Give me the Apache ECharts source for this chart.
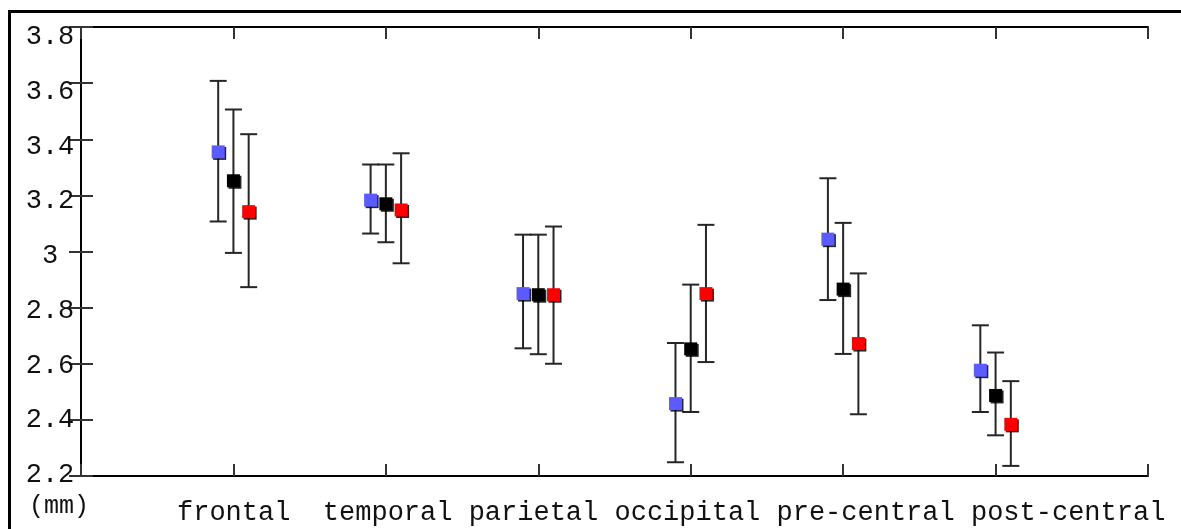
<!DOCTYPE html>
<html>
<head>
<meta charset="utf-8">
<script src="https://cdn.jsdelivr.net/npm/echarts@6/dist/echarts.min.js"></script>
<style>
html,body{margin:0;padding:0;background:#fff;}
#chart{width:1181px;height:529px;}
</style>
</head>
<body>
<div id="chart"></div>
<script>
// ---- data ----
const categories = ['frontal', 'temporal', 'parietal', 'occipital', 'pre-central', 'post-central'];
const yUnit = '(mm)';
const yMin = 2.2, yMax = 3.8, yStep = 0.2;
const yTickLabels = [2.2, 2.4, 2.6, 2.8, 3.0, 3.2, 3.4, 3.6, 3.8];

const blueMean  = [3.355, 3.183, 2.850, 2.458, 3.044, 2.577];
const blueLow   = [3.107, 3.064, 2.655, 2.249, 2.827, 2.428];
const blueHigh  = [3.608, 3.310, 3.060, 2.674, 3.261, 2.737];

const blackMean = [3.252, 3.170, 2.846, 2.653, 2.866, 2.487];
const blackLow  = [2.995, 3.033, 2.634, 2.428, 2.635, 2.345];
const blackHigh = [3.506, 3.310, 3.060, 2.882, 3.102, 2.640];

const redMean   = [3.142, 3.148, 2.846, 2.850, 2.672, 2.384];
const redLow    = [2.873, 2.958, 2.600, 2.606, 2.420, 2.236];
const redHigh   = [3.418, 3.350, 3.089, 3.095, 2.922, 2.538];

// ---- chart ----
const groupOffsets = [-0.1, 0, 0.1];
const groups = [
  {name: 'blue', color: '#5b5bff', mean: blueMean, low: blueLow, high: blueHigh},
  {name: 'black', color: '#000000', mean: blackMean, low: blackLow, high: blackHigh},
  {name: 'red', color: '#ff0000', mean: redMean, low: redLow, high: redHigh}
];
const FONT = '"Liberation Mono", "Courier New", monospace';
const FS = 27;
const barColor = '#262626';

function renderErr(params, api) {
  const x = api.value(0), lo = api.value(1), hi = api.value(2);
  const a = api.coord([x, lo]), b = api.coord([x, hi]);
  const w = 8.5;
  const st = {stroke: barColor, lineWidth: 2};
  return {type: 'group', children: [
    {type: 'line', shape: {x1: a[0], y1: a[1], x2: b[0], y2: b[1]}, style: st},
    {type: 'line', shape: {x1: a[0] - w, y1: a[1], x2: a[0] + w, y2: a[1]}, style: st},
    {type: 'line', shape: {x1: b[0] - w, y1: b[1], x2: b[0] + w, y2: b[1]}, style: st}
  ]};
}

const series = [];
groups.forEach((g, gi) => {
  series.push({
    type: 'custom', name: g.name + '-err', renderItem: renderErr,
    data: categories.map((c, i) => [i + 1 + groupOffsets[gi], g.low[i], g.high[i]]),
    encode: {x: 0, y: [1, 2]}, z: 2, silent: true
  });
});
groups.forEach((g, gi) => {
  series.push({
    type: 'scatter', name: g.name, symbol: 'rect', symbolSize: 13,
    data: categories.map((c, i) => [i + 1 + groupOffsets[gi], g.mean[i]]),
    itemStyle: {color: g.color, opacity: 1, shadowColor: 'rgba(0,0,0,0.85)', shadowOffsetX: 1.5, shadowOffsetY: 1.5, shadowBlur: 0},
    z: 5, silent: true
  });
});

// x label line: a single monospaced string, as in the reference
const xLabelText = categories[0] + '  ' + categories.slice(1).join(' ');

const axisLineStyle = {show: true, lineStyle: {color: '#000', width: 2}};
const tickStyle = {show: true, inside: true, length: 12, lineStyle: {color: '#333', width: 2}};

const option = {
  animation: false,
  backgroundColor: '#fff',
  grid: {left: 81, right: 33, top: 27, bottom: 53, containLabel: false},
  xAxis: [
    {type: 'value', min: 0, max: categories.length + 1, interval: 1, position: 'bottom',
     axisLine: axisLineStyle, axisTick: tickStyle, axisLabel: {show: false}, splitLine: {show: false}},
    {type: 'value', min: 0, max: categories.length + 1, interval: 1, position: 'top',
     axisLine: axisLineStyle, axisTick: tickStyle, axisLabel: {show: false}, splitLine: {show: false}}
  ],
  yAxis: [
    {type: 'value', min: yMin, max: yMax, interval: yStep, position: 'left',
     axisLine: axisLineStyle, axisTick: tickStyle, splitLine: {show: false}, axisLabel: {show: false}},
    {type: 'value', min: yMin, max: yMax, interval: yStep, position: 'right',
     axisLine: axisLineStyle, axisTick: tickStyle, splitLine: {show: false}, axisLabel: {show: false}},
    // label-only axis: the reference's tick labels sit on a slightly compressed scale
    {type: 'value', min: 2.1963, max: 3.8358, position: 'left', offset: 0,
     axisLine: {show: false}, axisTick: {show: false}, splitLine: {show: false},
     axisLabel: {customValues: yTickLabels, formatter: v => String(+(+v).toFixed(1)), align: 'center', margin: 31,
                 fontFamily: FONT, fontSize: FS, color: '#111', verticalAlign: 'middle', showMinLabel: true, showMaxLabel: true}}
  ],
  graphic: [
    {type: 'rect', shape: {x: 9.5, y: 11.5, width: 1300, height: 700}, style: {fill: 'none', stroke: '#000', lineWidth: 3}, z: 0, silent: true},
    {type: 'text', x: 177, y: 499, style: {text: xLabelText, fontFamily: FONT, fontSize: FS, fill: '#111', align: 'left', verticalAlign: 'top'}, silent: true},
    {type: 'text', x: 29, y: 494, style: {text: yUnit, fontFamily: FONT, fontSize: FS - 2, fill: '#111', align: 'left', verticalAlign: 'top'}, silent: true}
  ],
  series: series
};

const chart = echarts.init(document.getElementById('chart'), null, {renderer: 'canvas'});
chart.setOption(option);
</script>
</body>
</html>
